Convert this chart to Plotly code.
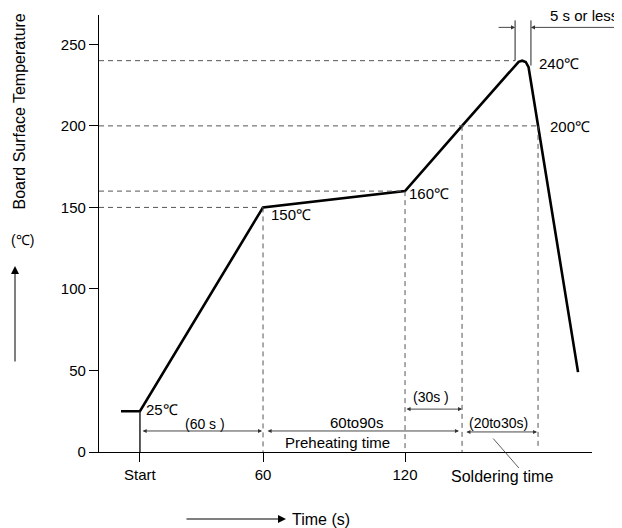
import plotly.graph_objects as go

# ---------------- data ----------------
profile_t = [0, 8, 60, 120, 144.1, 166.8, 168.0, 169.5, 171.0, 172.2, 176.2, 193.1]
profile_temp = [25, 25, 150, 160, 200, 237.6, 239.3, 240, 239.2, 236, 200, 49]

x_tick_vals = [8, 60, 120]
x_tick_text = ["Start", "60", "120"]
y_tick_vals = [0, 50, 100, 150, 200, 250]

start_t = 8
t150, t160, t200_up, t200_down = 60, 120, 144.1, 176.2
t_peak_left, t_peak_right = 166.5, 173.2
temp_start, temp150, temp160, temp200, temp240 = 25, 150, 160, 200, 240

point_labels = ["25℃", "150℃", "160℃", "200℃", "240℃"]
point_label_t = [9.5, 62.5, 121.0, 180.5, 175.8]
point_label_temp = [26, 145.5, 158.5, 199.5, 238.5]

# dimension arrows: (t_from, t_to, temp_level)
dim_arrows = [(8.5, 59.6, 12.9), (61.3, 142.8, 12.9), (120, 144.1, 26.3), (145.3, 175.8, 12.3)]
dim_labels = ["(60 s )", "60to90s", "Preheating time", "(30s )", "(20to30s)"]
dim_label_t = [35.5, 99.7, 91.3, 131.0, 159.7]
dim_label_temp = [17.4, 17.8, 6.0, 33.8, 17.8]

x_range = [-9.3, 199]
y_range = [0, 268]

FONT = "Liberation Sans, Arial, sans-serif"
DASH = "#555555"

# plot-area pixel geometry on the page (used for paper-relative placement)
PL, PR, PT, PB = 99, 592, 15, 452
def px(xp):
    return (xp - PL) / (PR - PL)
def py(yp):
    return (PB - yp) / (PB - PT)

fig = go.Figure()
fig.add_trace(go.Scatter(x=profile_t, y=profile_temp, mode="lines",
                         line=dict(color="black", width=2.6), hoverinfo="skip"))

shapes = []
def hline(y, x1):
    shapes.append(dict(type="line", xref="x", yref="y", x0=x_range[0], x1=x1, y0=y, y1=y,
                       line=dict(color=DASH, width=1, dash="5px,4px")))
def vline(x, y0, y1, dash=True, width=1, color=DASH):
    shapes.append(dict(type="line", xref="x", yref="y", x0=x, x1=x, y0=y0, y1=y1,
                       line=dict(color=color, width=width, dash="5px,4px" if dash else "solid")))

hline(temp240, t_peak_left)
hline(temp200, t200_down)
hline(temp160, t160)
hline(temp150, t150)
vline(t150, temp150, 0)
vline(t160, temp160, 0)
vline(t200_up, temp200, 0)
vline(t200_down, temp200, 2.5)
vline(start_t, temp_start, 0, dash=False, width=1.5, color="#222")
vline(t_peak_left, temp240, 264.7, dash=False, color="#222")
vline(t_peak_right, 237, 264.7, dash=False, color="#222")

ann = []
for txt, tx, ty in zip(point_labels, point_label_t, point_label_temp):
    ann.append(dict(x=tx, y=ty, xref="x", yref="y", text=txt, showarrow=False,
                    xanchor="left", yanchor="middle", font=dict(size=15, family=FONT, color="black")))
for txt, tx, ty in zip(dim_labels, dim_label_t, dim_label_temp):
    ann.append(dict(x=tx, y=ty, xref="x", yref="y", text=txt, showarrow=False,
                    xanchor="center", yanchor="middle",
                    font=dict(size=15 if txt in ("60to90s", "Preheating time") else 14,
                              family=FONT, color="black")))
for (a, b, lvl) in dim_arrows:
    ann.append(dict(x=b, y=lvl, ax=a, ay=lvl, xref="x", yref="y", axref="x", ayref="y",
                    text="", showarrow=True, arrowside="end+start", arrowhead=2,
                    arrowsize=0.9, arrowwidth=0.9, arrowcolor="#333", standoff=0, startstandoff=0))

# "5 s or less" arrows
ann.append(dict(x=t_peak_left, y=260.4, ax=158.9, ay=260.4, xref="x", yref="y", axref="x", ayref="y",
                text="", showarrow=True, arrowhead=2, arrowsize=0.9, arrowwidth=0.9, arrowcolor="#333"))
ann.append(dict(x=t_peak_right, y=260.4, ax=211.0, ay=260.4, xref="x", yref="y", axref="x", ayref="y",
                text="", showarrow=True, arrowhead=2, arrowsize=0.9, arrowwidth=0.9, arrowcolor="#333"))
ann.append(dict(x=px(620), y=py(16), xref="paper", yref="paper", text="5 s or less", showarrow=False,
                xanchor="right", yanchor="middle", font=dict(size=15, family=FONT, color="black")))

# Soldering time leader line + text
ann.append(dict(x=168.1, y=-9.8, ax=156.7, ay=9.2, xref="x", yref="y", axref="x", ayref="y",
                text="", showarrow=True, arrowhead=0, arrowwidth=0.8, arrowcolor="#333"))
ann.append(dict(x=px(502), y=py(476), xref="paper", yref="paper",
                text="Soldering time", showarrow=False, xanchor="center", yanchor="middle",
                font=dict(size=16, family=FONT, color="black")))

# Axis titles with arrows
ann.append(dict(x=px(290), y=py(519), xref="paper", yref="paper",
                text="Time (s)", showarrow=False, xanchor="left", yanchor="middle",
                font=dict(size=16, family=FONT, color="black")))
ann.append(dict(x=px(286), y=py(519), xref="paper", yref="paper",
                ax=-101, ay=0, text="", showarrow=True, arrowhead=2, arrowsize=1.6,
                arrowwidth=1, arrowcolor="black"))
ann.append(dict(x=px(9), y=py(112), xref="paper", yref="paper",
                text="Board Surface Temperature", textangle=-90, showarrow=False,
                xanchor="left", yanchor="middle", font=dict(size=16, family=FONT, color="black")))
ann.append(dict(x=px(9), y=py(240), xref="paper", yref="paper",
                text="(℃)", showarrow=False, xanchor="left", yanchor="middle",
                font=dict(size=14, family=FONT, color="black")))
ann.append(dict(x=px(15), y=py(266), xref="paper", yref="paper",
                ax=0, ay=97, text="", showarrow=True, arrowhead=2, arrowsize=1.6,
                arrowwidth=1, arrowcolor="black"))

# The page adds an 8px body margin, so the figure is 8px smaller and margins shifted.
fig.update_layout(
    width=614, height=520,
    margin=dict(l=PL - 8, r=614 - (PR - 8), t=PT - 8, b=520 - (PB - 8)),
    paper_bgcolor="white", plot_bgcolor="white",
    showlegend=False,
    shapes=shapes, annotations=ann,
    font=dict(family=FONT, color="black"),
    xaxis=dict(range=x_range, tickvals=x_tick_vals, ticktext=x_tick_text,
               showgrid=False, zeroline=False, showline=True, linecolor="black", linewidth=1.2,
               ticks="outside", ticklen=9, tickcolor="black", tickwidth=1,
               tickfont=dict(size=15, family=FONT, color="black")),
    yaxis=dict(range=y_range, tickvals=y_tick_vals,
               showgrid=False, zeroline=False, showline=True, linecolor="black", linewidth=1.2,
               ticks="outside", ticklen=9, tickcolor="black", tickwidth=1,
               tickfont=dict(size=15, family=FONT, color="black")),
)

fig.write_html("out.html")
